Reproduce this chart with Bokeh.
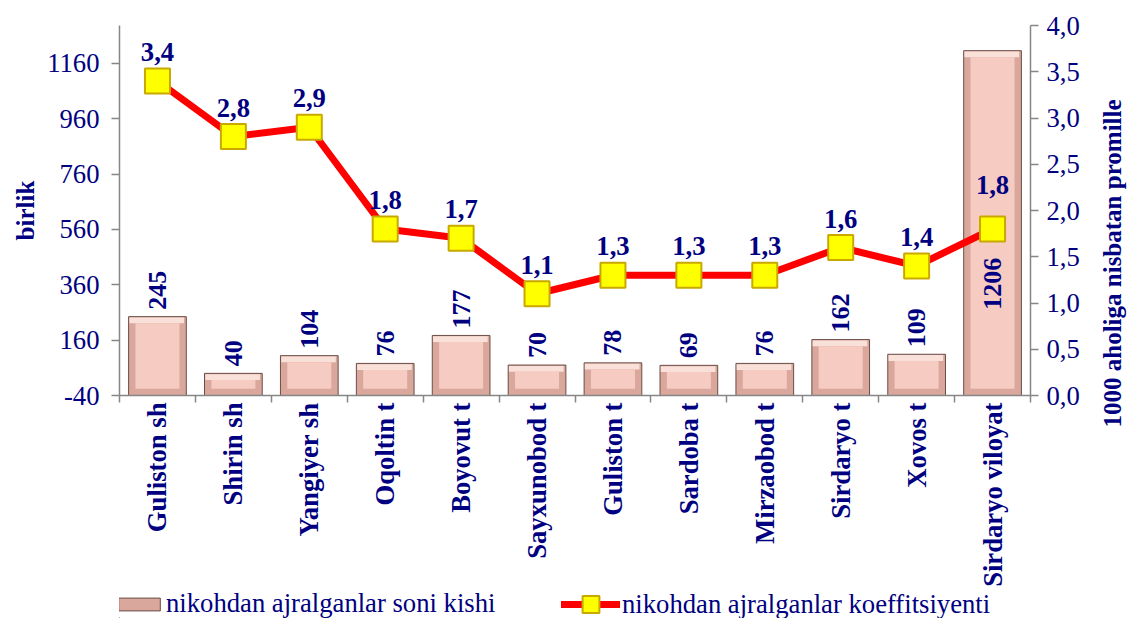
import math
from bokeh.plotting import figure
from bokeh.layouts import column, row
from bokeh.models import (Range1d, LinearAxis, FixedTicker, CustomJSTickFormatter,
                          Legend, LegendItem, Title)
from bokeh.core.properties import value
from bokeh.embed import file_html
from bokeh.resources import INLINE

# ---- data ----
names = ["Guliston sh", "Shirin sh", "Yangiyer sh", "Oqoltin t", "Boyovut t",
         "Sayxunobod t", "Guliston t", "Sardoba t", "Mirzaobod t", "Sirdaryo t",
         "Xovos t", "Sirdaryo viloyat"]
counts = [245, 40, 104, 76, 177, 70, 78, 69, 76, 162, 109, 1206]
coef = [3.4, 2.8, 2.9, 1.8, 1.7, 1.1, 1.3, 1.3, 1.3, 1.6, 1.4, 1.8]
left_ticks = [-40, 160, 360, 560, 760, 960, 1160]
right_ticks = [0, 0.5, 1, 1.5, 2, 2.5, 3, 3.5, 4]
bar_label = "nikohdan ajralganlar soni kishi"
line_label = "nikohdan ajralganlar koeffitsiyenti"
left_title = "birlik"
right_title = "1000 aholiga nisbatan promille"

NAVY = "#000080"
FONT = "Liberation Serif"
AXIS_GRAY = "#868686"
BAR_OUT = "#d9a79b"
BAR_TOP = "#f9e0d9"
BAR_IN = "#f6cbc1"
BAR_EDGE = "#6b4d47"
RED = "#ff0000"
YEL = "#ffff00"
GOLD = "#c9a800"

n = len(names)
centers = [i + 0.5 for i in range(n)]
y_min = -40

PW = 1085
PH = 589
p = figure(width=PW, height=PH, output_backend="svg", toolbar_location=None,
           x_range=Range1d(0, n), y_range=Range1d(y_min, 1297),
           min_border_left=119, min_border_right=PW - 1030, min_border_top=25,
           min_border_bottom=PH - 396)
p.grid.visible = False
p.outline_line_color = None
p.extra_y_ranges = {"right": Range1d(0, 4)}

# ---- bars with bevel look ----
bw = 0.76
inset_x = 0.09
inset_y = 24
p.vbar(x=centers, top=counts, bottom=y_min, width=bw,
       fill_color=BAR_OUT, line_color=BAR_EDGE, line_width=1)
p.quad(left=[c - bw / 2 + 0.01 for c in centers],
       right=[c + bw / 2 - 0.03 for c in centers],
       bottom=[max(v - inset_y, y_min + inset_y) for v in counts],
       top=[v - 3 for v in counts],
       fill_color=BAR_TOP, line_color=None)
p.quad(left=[c - bw / 2 + inset_x for c in centers],
       right=[c + bw / 2 - inset_x for c in centers],
       bottom=[y_min + inset_y] * n,
       top=[max(v - inset_y, y_min + inset_y) for v in counts],
       fill_color=BAR_IN, line_color=None)

# ---- line + markers ----
p.line(x=centers, y=coef, y_range_name="right", line_color=RED, line_width=7)
p.scatter(x=centers, y=coef, y_range_name="right", marker="square",
          size=25, fill_color=YEL, line_color=GOLD, line_width=2)

# ---- labels on markers ----
coef_txt = [f"{v:.1f}".replace(".", ",") for v in coef]
txt_style = dict(text_font=value(FONT), text_font_style="bold",
                 text_color=NAVY)
p.text(x=centers[:-1], y=coef[:-1], text=coef_txt[:-1], y_range_name="right",
       text_font_size="26.67px", text_align="center", text_baseline="middle",
       y_offset=-29, **txt_style)
p.text(x=centers[-1:], y=coef[-1:], text=coef_txt[-1:], y_range_name="right",
       text_font_size="26.67px", text_align="center", text_baseline="middle",
       y_offset=-44, **txt_style)

# ---- labels on bars (rotated) ----
cnt_txt = [str(v) for v in counts]
p.text(x=centers[:-1], y=counts[:-1], text=cnt_txt[:-1], angle=math.pi / 2,
       text_font_size="26px", text_align="left", text_baseline="middle",
       y_offset=-7, **txt_style)
p.text(x=centers[-1:], y=counts[-1:], text=cnt_txt[-1:], angle=math.pi / 2,
       text_font_size="26px", text_align="right", text_baseline="middle",
       y_offset=207, **txt_style)


def style_axis(ax):
    ax.axis_line_color = AXIS_GRAY
    ax.axis_line_width = 1.5
    ax.major_tick_line_color = AXIS_GRAY
    ax.major_tick_line_width = 1.5
    ax.minor_tick_line_color = AXIS_GRAY
    ax.minor_tick_line_width = 1.5
    ax.major_label_text_font = FONT
    ax.major_label_text_font_size = "26.67px"
    ax.major_label_text_color = NAVY
    ax.axis_label_text_font = FONT
    ax.axis_label_text_font_style = "bold"
    ax.axis_label_text_font_size = "25px"
    ax.axis_label_text_color = NAVY


# x axis
xa = p.xaxis[0]
style_axis(xa)
xa.ticker = FixedTicker(ticks=centers, minor_ticks=list(range(n + 1)))
xa.formatter = CustomJSTickFormatter(args=dict(names=names),
                                     code="return names[Math.floor(tick)];")
xa.major_tick_in = 0
xa.major_tick_out = 0
xa.minor_tick_in = 0
xa.minor_tick_out = 7
xa.major_label_orientation = math.pi / 2
xa.major_label_standoff = 0
xa.major_label_text_font_style = "bold"

# left axis
ya = p.yaxis[0]
style_axis(ya)
ya.ticker = FixedTicker(ticks=left_ticks, minor_ticks=[])
ya.formatter = CustomJSTickFormatter(code="return String(tick);")
ya.major_tick_in = 0
ya.major_tick_out = 8
ya.minor_tick_out = 0
ya.minor_tick_in = 0
ya.major_label_standoff = 12
ya.axis_label = left_title
ya.axis_label_standoff = 5

# right axis
ra = LinearAxis(y_range_name="right",
                ticker=FixedTicker(ticks=right_ticks, minor_ticks=[]),
                formatter=CustomJSTickFormatter(
                    code="return tick.toFixed(1).replace('.', ',');"))
style_axis(ra)
ra.major_tick_in = 0
ra.major_tick_out = 8
ra.minor_tick_in = 0
ra.minor_tick_out = 0
ra.major_label_standoff = 8
p.add_layout(ra, "right")

# ---- right-hand title strip (reads bottom-to-top) ----
tf = figure(width=1130 - PW, height=592, output_backend="svg",
            toolbar_location=None, x_axis_location=None, y_axis_location=None,
            x_range=Range1d(0, 1), y_range=Range1d(0, 1),
            min_border_left=40, min_border_right=0, min_border_top=25,
            min_border_bottom=196)
tf.grid.visible = False
tf.outline_line_color = None
tf.scatter(x=[-10], y=[-10], size=1, alpha=0)
tf.add_layout(Title(text=right_title, align="left", vertical_align="bottom",
                    offset=-31, standoff=0, text_font=FONT,
                    text_font_style="bold", text_font_size="25px",
                    text_color=NAVY), "left")

# ---- legend strip ----
LH = 618 - PH
lf = figure(width=PW, height=LH, output_backend="svg", toolbar_location=None,
            x_range=Range1d(0, PW), y_range=Range1d(0, LH),
            x_axis_location=None, y_axis_location=None,
            min_border=0, min_border_left=0, min_border_right=0,
            min_border_top=0, min_border_bottom=0)
lf.grid.visible = False
lf.outline_line_color = None
d_bar = lf.vbar(x=[-100], top=[1], width=1, fill_color=BAR_OUT,
                line_color=BAR_EDGE, line_width=1)
d_line = lf.line(x=[-100, -99], y=[0, 0], line_color=RED, line_width=7,
                 line_cap="round")
d_mk = lf.scatter(x=[-100], y=[0], marker="square", fill_color=YEL,
                  line_color=GOLD, line_width=2)

leg_common = dict(orientation="horizontal", padding=0, margin=0,
                  border_line_color=None, background_fill_alpha=0,
                  label_text_font=FONT, label_text_font_size="26.67px",
                  label_text_color=NAVY)
leg1 = Legend(items=[LegendItem(label=bar_label, renderers=[d_bar])],
              location=(-6, -1), glyph_width=52, glyph_height=16,
              label_standoff=1, **leg_common)
leg2 = Legend(items=[LegendItem(label=line_label, renderers=[d_line, d_mk])],
              location=(442, -7), glyph_width=59, glyph_height=42,
              label_standoff=2, **leg_common)
lf.add_layout(leg1, "center")
lf.add_layout(leg2, "center")

layout = row(column(p, lf, spacing=0), tf, spacing=0)
open("out.html", "w").write(file_html(layout, INLINE))
